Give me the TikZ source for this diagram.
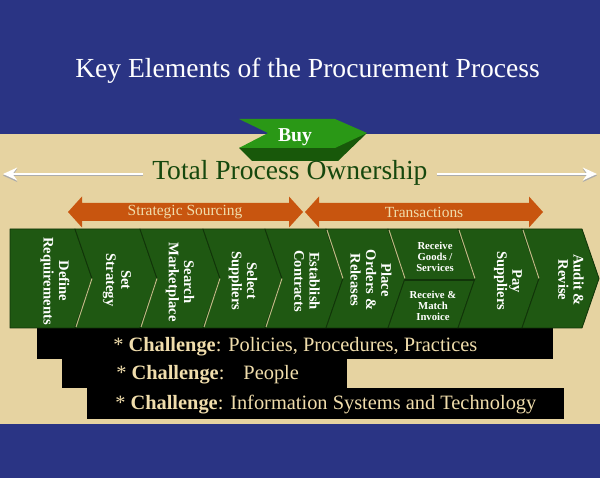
\documentclass[tikz,border=0pt]{standalone}
\usepackage{fontspec}
\setmainfont{Liberation Serif}
\usetikzlibrary{arrows.meta}

\definecolor{slideblue}{RGB}{42,52,132}
\definecolor{slidetan}{RGB}{230,211,161}
\definecolor{chevgreen}{RGB}{31,88,18}
\definecolor{chevdark}{RGB}{17,52,9}
\definecolor{buytop}{RGB}{42,152,22}
\definecolor{buyside}{RGB}{24,88,10}
\definecolor{ownergreen}{RGB}{22,72,14}
\definecolor{burnt}{RGB}{200,85,15}
\definecolor{paletext}{RGB}{240,221,172}

\begin{document}
\begin{tikzpicture}[x=0.025cm, y=-0.025cm]
   \tikzstyle{chevron}=[fill=chevgreen, draw=chevdark, line width=0.6pt, line join=round]
   \tikzstyle{sepline}=[draw=slidetan!80!chevgreen, line width=0.7pt]
   \tikzstyle{coltext}=[rotate=-90, text=white, align=center, inner sep=0pt, font=\fontsize{10.4}{10.9}\selectfont\bfseries]
   \tikzstyle{smalltext}=[text=white, align=center, inner sep=0pt, font=\fontsize{7.6}{7.6}\selectfont\bfseries]
   \tikzstyle{phase}=[text=paletext, inner sep=0pt, font=\fontsize{11}{11}\selectfont]
   \tikzstyle{challenge}=[anchor=base west, text=paletext, inner sep=0pt, font=\fontsize{14.5}{14.5}\selectfont]
   \tikzstyle{ownarrow}=[white, line width=2.1pt, -{Stealth[length=10pt, width=9pt]},
      preaction={draw=gray!65, transform canvas={yshift=-1.1pt}}]

\useasboundingbox (0,0) rectangle (600,478);
\fill[slideblue] (0,0) rectangle (600,478);
\fill[slidetan] (0,134) rectangle (600,424);

\node[anchor=base west, text=white, inner sep=0pt, font=\fontsize{19.6}{20}\selectfont] (title) at (75,78)
   {Key Elements of the Procurement Process};

\fill[buyside] (239,148) -- (252,161) -- (338,161) -- (367,133) -- cycle;
\fill[buytop] (239,119) -- (335,119) -- (367,133) -- (335,148) -- (239,148) -- (268,133) -- cycle;
\node[anchor=base, text=white, inner sep=0pt, font=\fontsize{14}{14}\selectfont\bfseries] (buy) at (295,142) {Buy};

\node[anchor=base west, text=ownergreen, inner sep=6.4pt, font=\fontsize{19.6}{20}\selectfont] (owner) at (143,180)
   {Total Process Ownership};
\coordinate (lefttip) at (3,174);
\coordinate (righttip) at (597,174);
\draw[ownarrow] (owner.west |- lefttip) -- (lefttip);
\draw[ownarrow] (owner.east |- righttip) -- (righttip);

\foreach \a/\b in {68/303, 305/543}
   \fill[burnt] (\a,212) -- (\a+14,196.5) -- (\a+14,203) -- (\b-14,203) -- (\b-14,196.5) -- (\b,212)
      -- (\b-14,227.5) -- (\b-14,221) -- (\a+14,221) -- (\a+14,227.5) -- cycle;
\node[phase] (sourcing) at (185,212) {Strategic Sourcing};
\node[phase] (transactions) at (424,212) {Transactions};

\fill[black] (37,326) rectangle (553,359);
\fill[black] (62,359) rectangle (347,388);
\fill[black] (87,388) rectangle (564,419);

\foreach \l/\r/\n in {10/75/0, 75/140/17, 140/203/17, 203/265/17, 265/326/17, 326/388/17, 388/458/17, 458/522/17, 522/582/17}
   \filldraw[chevron] (\l,229) -- (\r,229) -- (\r+17,278.5) -- (\r,328) -- (\l,328) -- (\l+\n,278.5) -- cycle;
\foreach \b in {75,140,203,265}
   \draw[sepline] (\b+17,278.5) -- (\b+1,327);
\foreach \b in {326,388,458,522}
   \draw[sepline] (\b+1,230) -- (\b+17,278.5);
\draw[chevdark, line width=0.9pt] (405,280) -- (475,280);

\node[coltext] (define) at (55,281) {Define\\Requirements};
\node[coltext] (strategy) at (117,280) {Set\\Strategy};
\node[coltext] (search) at (180,282) {Search\\Marketplace};
\node[coltext] (select) at (243,281) {Select\\Suppliers};
\node[coltext] (establish) at (307,281) {Establish\\Contracts};
\node[coltext] (place) at (371,280) {Place\\Orders \&\\Releases};
\node[smalltext] (goods) at (435,257) {Receive\\Goods /\\Services};
\node[smalltext] (invoice) at (433,306) {Receive \&\\Match\\Invoice};
\node[coltext] (pay) at (508,281) {Pay\\Suppliers};
\node[coltext] (audit) at (571,280) {Audit \&\\Revise};

\node[challenge] (policies) at (113,352) {* \textbf{Challenge}: Policies, Procedures, Practices};
\node[challenge] (people) at (116,380) {* \textbf{Challenge}:\hspace{0.93em}People};
\node[challenge] (systems) at (115,410) {* \textbf{Challenge}: Information Systems and Technology};

\end{tikzpicture}
\end{document}
